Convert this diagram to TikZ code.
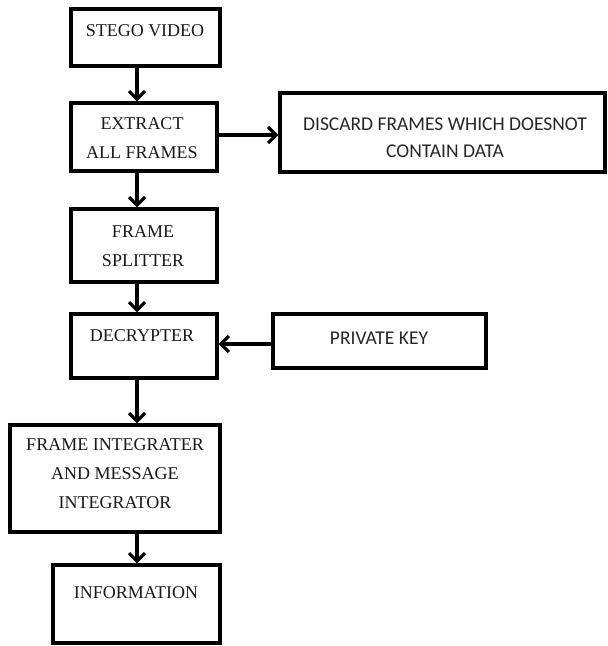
\documentclass[tikz,border=0pt]{standalone}
\usepackage{fontspec}
\setmainfont{Liberation Serif}
\newfontfamily\labelsans{Carlito}
\usetikzlibrary{arrows.meta}
\begin{document}
\begin{tikzpicture}[x=1pt,y=-1pt,
  box/.style={draw=black,line width=3.2pt,rectangle,inner sep=0pt},
  serif/.style={align=center,inner sep=0pt,text=black!90,
    font=\fontsize{18}{29}\selectfont},
  sans/.style={align=center,inner sep=0pt,text=black!85,
    font=\labelsans\fontsize{19.5}{27}\selectfont},
  flow/.style={line width=3.2pt,-{Straight Barb[length=8pt,width=16pt,line width=3.2pt]}}]
\useasboundingbox (0,0) rectangle (608,646);
% boxes
\node[box,minimum width=149pt,minimum height=57pt] (stego) at (145.5,37.5) {};
\node[box,minimum width=146pt,minimum height=68pt] (extract) at (144,137) {};
\node[box,minimum width=325pt,minimum height=79pt] (discard) at (442.5,132.5) {};
\node[box,minimum width=146pt,minimum height=73pt] (splitter) at (144,245.5) {};
\node[box,minimum width=146pt,minimum height=64pt] (decrypt) at (144,346) {};
\node[box,minimum width=213pt,minimum height=54pt] (key) at (379.5,341) {};
\node[box,minimum width=210pt,minimum height=107pt] (integ) at (115,478.5) {};
\node[box,minimum width=167pt,minimum height=78pt] (info) at (136.5,604) {};
% labels
\node[serif] (stegoT) at (145,31) {STEGO VIDEO};
\node[serif] (extractT) at (142,138.5) {EXTRACT\\ALL FRAMES};
\node[sans] (discardT) at (445,137.5) {DISCARD FRAMES WHICH DOESNOT\\CONTAIN DATA};
\node[serif] (splitterT) at (143,246) {FRAME\\SPLITTER};
\node[serif] (decryptT) at (142,336) {DECRYPTER};
\node[sans] (keyT) at (379,338) {PRIVATE KEY};
\node[serif] (integT) at (115,474) {FRAME INTEGRATER\\AND MESSAGE\\INTEGRATOR};
\node[serif] (infoT) at (136,593) {INFORMATION};
% connectors
\coordinate (col) at (137,0);
\coordinate (row1) at (0,135);
\coordinate (row2) at (0,344);
\draw[flow] (stego.south -| col) -- (extract.north -| col);
\draw[flow] (extract.south -| col) -- (splitter.north -| col);
\draw[flow] (splitter.south -| col) -- (decrypt.north -| col);
\draw[flow] (decrypt.south -| col) -- (integ.north -| col);
\draw[flow] (integ.south -| col) -- (info.north -| col);
\draw[flow] (extract.east |- row1) -- (discard.west |- row1);
\draw[flow] (key.west |- row2) -- (decrypt.east |- row2);
\end{tikzpicture}
\end{document}
